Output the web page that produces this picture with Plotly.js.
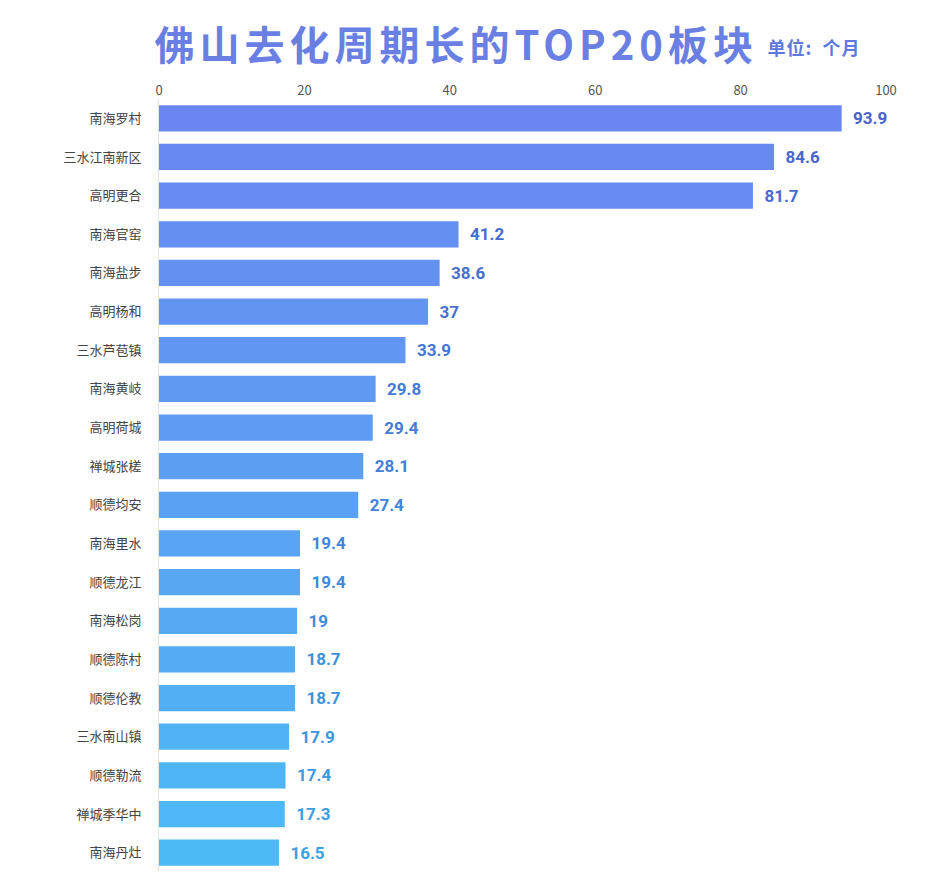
<!DOCTYPE html>
<html><head><meta charset="utf-8">
<script src="https://cdn.plot.ly/plotly-3.0.1.min.js"></script>
<style>body{margin:0;background:#fff;}#c{width:950px;height:882px;}</style>
</head><body><div id="c"></div>
<script>
const categories = ["南海罗村","三水江南新区","高明更合","南海官窑","南海盐步","高明杨和","三水芦苞镇","南海黄岐","高明荷城","禅城张槎","顺德均安","南海里水","顺德龙江","南海松岗","顺德陈村","顺德伦教","三水南山镇","顺德勒流","禅城季华中","南海丹灶"];
const values = [93.9,84.6,81.7,41.2,38.6,37,33.9,29.8,29.4,28.1,27.4,19.4,19.4,19,18.7,18.7,17.9,17.4,17.3,16.5];
const tickVals = [0,20,40,60,80,100];
const titleText = "佛山去化周期长的TOP20板块";
const unitText = "单位:  个月";

function lerp(a,b,t){return Math.round(a+(b-a)*t);}
function mix(c1,c2,t){return 'rgb('+lerp(c1[0],c2[0],t)+','+lerp(c1[1],c2[1],t)+','+lerp(c1[2],c2[2],t)+')';}
const n = categories.length;
const barColors = categories.map((_,i)=>mix([106,134,240],[76,186,245],i/(n-1)));
const txtColors = categories.map((_,i)=>mix([74,98,205],[60,160,226],i/(n-1)));

const trace = {
  type:'bar', orientation:'h',
  x: values, y: categories,
  marker:{color:barColors},
  text: values.map(v=>'\u00a0\u00a0'+v), textposition:'outside', cliponaxis:false,
  textfont:{family:'Roboto, "Noto Sans CJK SC", sans-serif', size:17, color:txtColors, weight:'bold'},
  hoverinfo:'none'
};
const W = 950-159-64;
const layout = {
  width:950, height:882,
  margin:{l:159, r:64, t:99, b:10},
  paper_bgcolor:'#fff', plot_bgcolor:'#fff',
  bargap:0.32,
  showlegend:false,
  xaxis:{side:'top', range:[0,100], tickvals:tickVals, ticktext:tickVals.map(String), showgrid:false, zeroline:false, showline:false, ticks:'',
    tickfont:{family:'"Noto Sans CJK SC", sans-serif', size:13, color:'#555'}},
  yaxis:{autorange:'reversed', showgrid:false, zeroline:false, showline:true, linecolor:'#e6e6e6', linewidth:1, ticks:'', ticklabelstandoff:14,
    tickfont:{family:'"Noto Sans CJK SC", sans-serif', size:13, color:'#444'}},
  annotations:[
    {text:'<b>'+titleText+'</b>', xref:'paper', yref:'paper', x:(190-159)/W, y:1, yshift:99-43, xanchor:'left', yanchor:'middle', showarrow:false,
     font:{family:'"Noto Sans CJK SC", sans-serif', size:40, color:'#6a7fe3'}},
    {text:'<b>'+unitText+'</b>', xref:'paper', yref:'paper', x:(769-159)/W, y:1, yshift:99-47, xanchor:'left', yanchor:'middle', showarrow:false,
     font:{family:'"Noto Sans CJK SC", sans-serif', size:18, color:'#5f78de'}}
  ]
};
Plotly.newPlot('c',[trace],layout,{displayModeBar:false,staticPlot:true}).then(gd=>{
  const t = gd.querySelectorAll('.annotation-text');
  if(t[0]){ t[0].style.letterSpacing='5px'; }
  if(t[1]){ t[1].style.letterSpacing='1px'; }
});
</script></body></html>
